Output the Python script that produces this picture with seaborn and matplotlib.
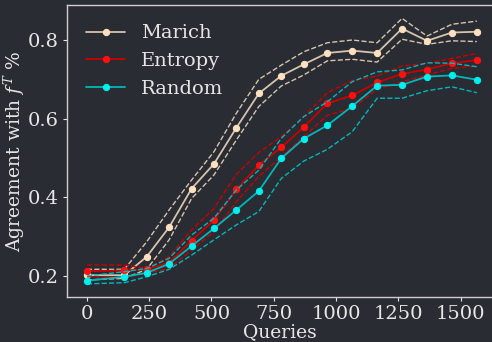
import matplotlib
matplotlib.use("Agg")
import matplotlib.pyplot as plt
import numpy as np
import pandas as pd
import seaborn as sns

# ----------------------------------------------------------------
# Data
# ----------------------------------------------------------------
queries = [0, 150, 240, 330, 420, 510, 600, 690, 780, 870, 965, 1065,
           1165, 1265, 1365, 1465, 1565]

marich_mean = [0.202, 0.202, 0.249, 0.324, 0.422, 0.485, 0.577, 0.664, 0.709,
               0.738, 0.767, 0.773, 0.767, 0.829, 0.798, 0.819, 0.821]
marich_hi = [0.217, 0.217, 0.287, 0.368, 0.444, 0.516, 0.614, 0.700, 0.736,
             0.770, 0.793, 0.800, 0.793, 0.855, 0.810, 0.840, 0.848]
marich_lo = [0.190, 0.194, 0.217, 0.292, 0.397, 0.457, 0.546, 0.631, 0.683,
             0.711, 0.747, 0.751, 0.744, 0.802, 0.789, 0.798, 0.796]

entropy_mean = [0.212, 0.214, 0.217, 0.234, 0.290, 0.342, 0.420, 0.482, 0.527,
                0.578, 0.639, 0.659, 0.692, 0.714, 0.725, 0.741, 0.749]
entropy_hi = [0.228, 0.228, 0.219, 0.249, 0.317, 0.372, 0.459, 0.514, 0.554,
              0.605, 0.666, 0.697, 0.708, 0.734, 0.741, 0.753, 0.766]
entropy_lo = [0.198, 0.197, 0.207, 0.219, 0.266, 0.313, 0.389, 0.453, 0.503,
              0.554, 0.609, 0.626, 0.675, 0.694, 0.711, 0.728, 0.734]

random_mean = [0.188, 0.198, 0.208, 0.231, 0.276, 0.321, 0.368, 0.416, 0.499,
               0.549, 0.583, 0.632, 0.684, 0.686, 0.707, 0.710, 0.699]
random_hi = [0.200, 0.211, 0.219, 0.245, 0.304, 0.347, 0.419, 0.469, 0.550,
             0.605, 0.643, 0.694, 0.719, 0.724, 0.742, 0.741, 0.732]
random_lo = [0.180, 0.183, 0.198, 0.217, 0.253, 0.292, 0.330, 0.364, 0.448,
             0.492, 0.522, 0.567, 0.652, 0.652, 0.671, 0.681, 0.666]

# ----------------------------------------------------------------
# Style
# ----------------------------------------------------------------
BG = "#292c33"
FG = "#e6e6e6"
SPINE = "#cfcfcf"

sns.set_theme(style="dark")
plt.rcParams.update({
    "figure.facecolor": BG,
    "axes.facecolor": BG,
    "axes.edgecolor": SPINE,
    "axes.labelcolor": FG,
    "xtick.color": FG,
    "ytick.color": FG,
    "text.color": FG,
    "xtick.bottom": True,
    "ytick.left": True,
    "mathtext.fontset": "dejavuserif",
})
plt.rcParams["font.family"] = ["DejaVu Serif"]

series = [
    ("Marich", marich_mean, marich_hi, marich_lo, "#d8c3ac", "#ffe0c0"),
    ("Entropy", entropy_mean, entropy_hi, entropy_lo, "#cc0000", "#ff1010"),
    ("Random", random_mean, random_hi, random_lo, "#00b8bb", "#00f0f0"),
]

fig = plt.figure(figsize=(4.92, 3.42), dpi=100)
ax = fig.add_axes([67 / 492, 45 / 342, 426 / 492, 292 / 342])

for name, mean, hi, lo, lc, mc in series:
    df = pd.DataFrame({"q": queries, "mean": mean, "hi": hi, "lo": lo})
    sns.lineplot(data=df, x="q", y="hi", ax=ax, color=lc, linestyle="--",
                 linewidth=1.0)
    sns.lineplot(data=df, x="q", y="lo", ax=ax, color=lc, linestyle="--",
                 linewidth=1.0)
    sns.lineplot(data=df, x="q", y="mean", ax=ax, color=lc, linewidth=1.3,
                 marker="o", markersize=4.5, markerfacecolor=mc,
                 markeredgecolor=mc, label=name)

ax.set_xlim(-80, 1630)
ax.set_ylim(0.1466, 0.889)
ax.set_xticks([0, 250, 500, 750, 1000, 1250, 1500])
ax.set_yticks([0.2, 0.4, 0.6, 0.8])
ax.tick_params(labelsize=14, length=3, width=0.8, pad=3)
ax.set_xlabel("Queries", fontsize=13.5, labelpad=0)
ax.set_ylabel("Agreement with $f^T$ %", fontsize=13.5)
ax.yaxis.set_label_coords(-0.094, 0.5)
for s in ax.spines.values():
    s.set_linewidth(1.0)
    s.set_color(SPINE)

leg = ax.legend(loc="upper left", frameon=False, fontsize=14,
                handlelength=2.0, borderaxespad=0.6, labelspacing=0.5)
for t in leg.get_texts():
    t.set_color(FG)

fig.savefig("out.png", dpi=100, facecolor=BG)
